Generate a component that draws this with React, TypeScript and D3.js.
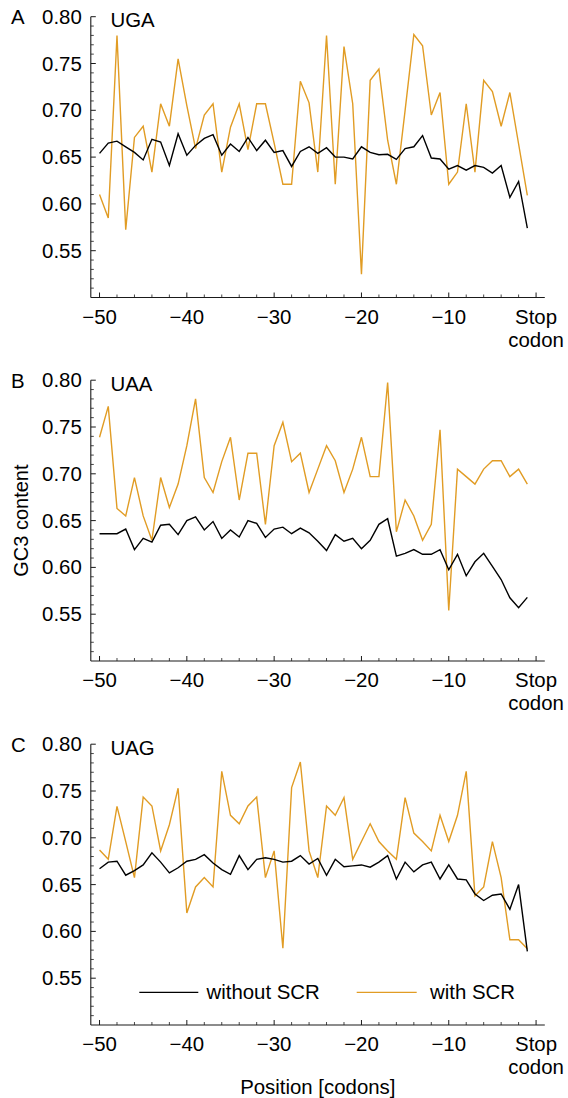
import React from 'react';
import * as d3 from 'd3';

// ---------- data ----------
const positions = [
  -50, -49, -48, -47, -46, -45, -44, -43, -42, -41,
  -40, -39, -38, -37, -36, -35, -34, -33, -32, -31,
  -30, -29, -28, -27, -26, -25, -24, -23, -22, -21,
  -20, -19, -18, -17, -16, -15, -14, -13, -12, -11,
  -10, -9, -8, -7, -6, -5, -4, -3, -2, -1,
];

const ugaWithout = [
  0.654, 0.665, 0.667, 0.661, 0.655, 0.647, 0.669, 0.666, 0.641, 0.675,
  0.652, 0.6625, 0.670, 0.674, 0.652, 0.664, 0.656, 0.671, 0.657, 0.668,
  0.655, 0.657, 0.640, 0.656, 0.661, 0.654, 0.660, 0.650, 0.650, 0.648,
  0.661, 0.655, 0.6525, 0.653, 0.6475, 0.659, 0.661, 0.673, 0.649, 0.648,
  0.637, 0.641, 0.636, 0.641, 0.639, 0.633, 0.641, 0.607, 0.624, 0.574,
];
const ugaWith = [
  0.610, 0.585, 0.780, 0.5725, 0.671, 0.683, 0.634, 0.707, 0.683, 0.755,
  0.705, 0.659, 0.695, 0.707, 0.634, 0.682, 0.707, 0.658, 0.707, 0.707,
  0.665, 0.621, 0.621, 0.731, 0.708, 0.634, 0.780, 0.621, 0.768, 0.707,
  0.525, 0.732, 0.744, 0.668, 0.621, 0.700, 0.781, 0.769, 0.695, 0.719,
  0.621, 0.634, 0.707, 0.634, 0.732, 0.720, 0.683, 0.719, 0.664, 0.609,
];

const uaaWithout = [
  0.636, 0.636, 0.636, 0.641, 0.619, 0.631, 0.627, 0.645, 0.646, 0.635,
  0.650, 0.654, 0.640, 0.649, 0.631, 0.640, 0.6325, 0.650, 0.647, 0.632,
  0.641, 0.643, 0.636, 0.642, 0.637, 0.628, 0.618, 0.635, 0.628, 0.631,
  0.620, 0.629, 0.646, 0.652, 0.612, 0.615, 0.619, 0.614, 0.614, 0.619,
  0.5975, 0.614, 0.591, 0.606, 0.615, 0.601, 0.587, 0.5675, 0.557, 0.568,
];
const uaaWith = [
  0.739, 0.772, 0.663, 0.655, 0.696, 0.655, 0.629, 0.696, 0.664, 0.689,
  0.730, 0.780, 0.696, 0.680, 0.713, 0.739, 0.672, 0.722, 0.722, 0.646,
  0.730, 0.755, 0.713, 0.722, 0.680, 0.705, 0.730, 0.714, 0.680, 0.705,
  0.739, 0.697, 0.697, 0.7975, 0.638, 0.672, 0.655, 0.629, 0.646, 0.747,
  0.554, 0.705, 0.697, 0.689, 0.705, 0.714, 0.714, 0.697, 0.705, 0.689,
];

const uagWithout = [
  0.667, 0.674, 0.675, 0.660, 0.665, 0.671, 0.684, 0.674, 0.6625, 0.668,
  0.675, 0.677, 0.682, 0.673, 0.666, 0.661, 0.681, 0.666, 0.677, 0.6786,
  0.677, 0.674, 0.675, 0.681, 0.672, 0.678, 0.660, 0.677, 0.669, 0.670,
  0.671, 0.6686, 0.674, 0.681, 0.656, 0.674, 0.6636, 0.671, 0.674, 0.656,
  0.671, 0.656, 0.655, 0.640, 0.633, 0.6386, 0.640, 0.6236, 0.650, 0.5786,
];
const uagWith = [
  0.687, 0.677, 0.7336, 0.696, 0.6575, 0.7436, 0.734, 0.686, 0.714, 0.753,
  0.6196, 0.6475, 0.6575, 0.6475, 0.771, 0.724, 0.715, 0.734, 0.7436, 0.6575,
  0.686, 0.582, 0.7536, 0.781, 0.686, 0.6575, 0.734, 0.724, 0.743, 0.677,
  0.696, 0.715, 0.696, 0.686, 0.677, 0.743, 0.705, 0.696, 0.686, 0.724,
  0.696, 0.724, 0.771, 0.638, 0.6475, 0.696, 0.6575, 0.591, 0.591, 0.5814,
];

const panelLetters = ['A', 'B', 'C'];
const panelCodons = ['UGA', 'UAA', 'UAG'];
const yMajorTicks = [0.55, 0.6, 0.65, 0.7, 0.75, 0.8];
const xMajorTicks = [-50, -40, -30, -20, -10, 0];
const seriesNames = ['without SCR', 'with SCR'];

// ---------- layout ----------
const W = 568;
const H = 1098;
const X0 = 90.8;
const X1 = 544.8;
const PANEL_TOPS = [16.7, 380.2, 744.2];
const PH = 280.8;
const ORANGE = '#E19C24';
const AXIS = '#1a1a1a';
const FONT = '"Liberation Sans", Arial, Helvetica, sans-serif';
const FS = 20;
const SX = 1.02;

type TP = { x: number; y: number; anchor?: 'start' | 'middle' | 'end'; rot?: boolean; children: React.ReactNode; size?: number };
function SText({ x, y, anchor = 'start', rot = false, children, size = FS }: TP) {
  const t = rot
    ? `translate(${x},${y}) rotate(-90) scale(1,${SX})`
    : `translate(${x},${y}) scale(${SX},1)`;
  return (
    <text transform={t} textAnchor={anchor} fontFamily={FONT} fontSize={size} fill="#000">
      {children}
    </text>
  );
}

type PanelProps = { idx: number; without: number[]; withS: number[] };
function Panel({ idx, without, withS }: PanelProps) {
  const top = PANEL_TOPS[idx];
  const bottom = top + PH;
  const x = d3.scaleLinear().domain([-51, 1]).range([X0, X1]);
  const y = d3.scaleLinear().domain([0.5, 0.8]).range([bottom, top]);
  const line = d3
    .line<number>()
    .x((_, i) => x(positions[i]))
    .y((d) => y(d));
  const yMinor = y.ticks(30).filter((t) => !yMajorTicks.some((m) => Math.abs(m - t) < 1e-6) && t > 0.505);
  const xMinor = d3.range(-48, 0, 2).filter((t) => t % 10 !== 0);
  return (
    <g>
      {/* axes */}
      <line x1={X0} x2={X0} y1={top} y2={bottom} stroke={AXIS} strokeWidth={1.1} />
      <line x1={X0} x2={X1} y1={bottom} y2={bottom} stroke={AXIS} strokeWidth={1.1} />
      {yMajorTicks.map((t) => (
        <g key={'ym' + t}>
          <line x1={X0} x2={X0 + 5} y1={y(t)} y2={y(t)} stroke={AXIS} strokeWidth={1} />
          <SText x={X0 - 9} y={y(t) + 7} anchor="end">
            {d3.format('.2f')(t)}
          </SText>
        </g>
      ))}
      {yMinor.map((t) => (
        <line key={'yn' + t} x1={X0} x2={X0 + 3} y1={y(t)} y2={y(t)} stroke={AXIS} strokeWidth={0.8} />
      ))}
      {xMajorTicks.map((t) => (
        <g key={'xm' + t}>
          <line x1={x(t)} x2={x(t)} y1={bottom} y2={bottom - 5} stroke={AXIS} strokeWidth={1} />
          {t === 0 ? (
            <>
              <SText x={x(t)} y={bottom + 26} anchor="middle">Stop</SText>
              <SText x={x(t)} y={bottom + 49} anchor="middle">codon</SText>
            </>
          ) : (
            <SText x={x(t)} y={bottom + 26} anchor="middle">
              {'\u2212' + Math.abs(t)}
            </SText>
          )}
        </g>
      ))}
      {xMinor.map((t) => (
        <line key={'xn' + t} x1={x(t)} x2={x(t)} y1={bottom} y2={bottom - 3} stroke={AXIS} strokeWidth={0.8} />
      ))}
      {/* series */}
      <path d={line(withS) || ''} fill="none" stroke={ORANGE} strokeWidth={1.4} strokeLinejoin="miter" />
      <path d={line(without) || ''} fill="none" stroke="#000" strokeWidth={1.4} strokeLinejoin="miter" />
      {/* labels */}
      <SText x={11} y={top + 7.5}>{panelLetters[idx]}</SText>
      <SText x={110.5} y={top + 10.5}>{panelCodons[idx]}</SText>
    </g>
  );
}

export default function App() {
  const series = [
    [ugaWithout, ugaWith],
    [uaaWithout, uaaWith],
    [uagWithout, uagWith],
  ];
  const legY = 992.3;
  return (
    <svg
      width={W}
      height={H}
      viewBox={`0 0 ${W} ${H}`}
      style={{ position: 'absolute', left: 0, top: 0, display: 'block', background: '#fff' }}
    >
      <rect x={0} y={0} width={W} height={H} fill="#fff" />
      {series.map((s, i) => (
        <Panel key={i} idx={i} without={s[0]} withS={s[1]} />
      ))}
      {/* legend */}
      <line x1={139.3} x2={198.3} y1={legY} y2={legY} stroke="#000" strokeWidth={1.3} />
      <SText x={206.5} y={legY + 7}>{seriesNames[0]}</SText>
      <line x1={356.7} x2={416.7} y1={legY} y2={legY} stroke={ORANGE} strokeWidth={1.3} />
      <SText x={430} y={legY + 7}>{seriesNames[1]}</SText>
      {/* axis titles */}
      <SText x={27.5} y={(PANEL_TOPS[1] * 2 + PH) / 2} anchor="middle" rot>
        GC3 content
      </SText>
      <SText x={(X0 + X1) / 2} y={1093.5} anchor="middle">
        Position [codons]
      </SText>
    </svg>
  );
}
